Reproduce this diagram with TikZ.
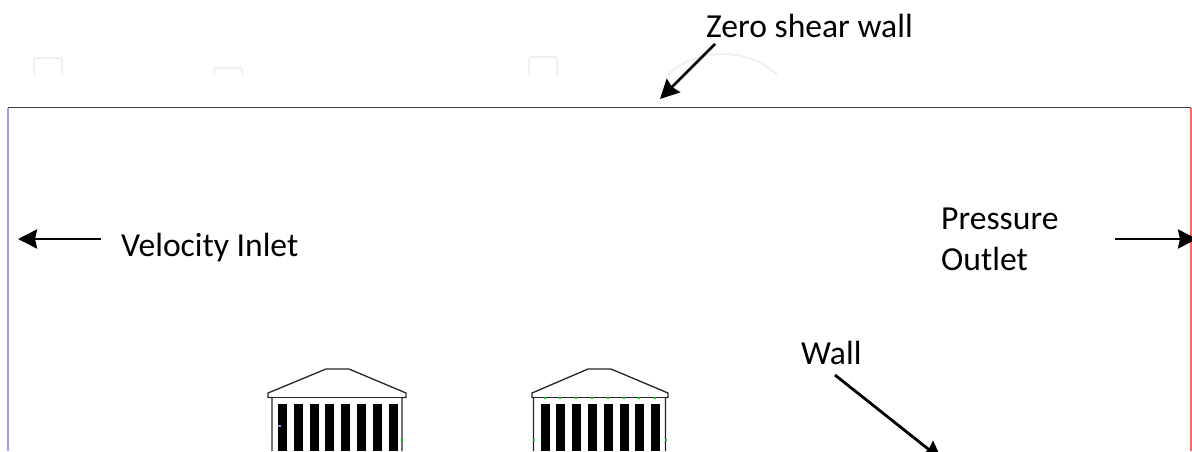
\documentclass[tikz,border=0pt]{standalone}
\usepackage{fontspec}
\setmainfont{Carlito}
\usetikzlibrary{arrows.meta}
\tikzset{
    label text/.style = {anchor = base west, inner sep = 0pt, font = \fontsize{33.6}{40}\selectfont},
    call arrow/.style = {line width = 2.8pt, ->, >={Stealth[length = 19pt, width = 19pt, inset = 2pt]}},
    ghost mark/.style = {draw = black!6, line width = 2pt, rounded corners = 2pt},
    temple/.style = {black!85, line width = 1.3pt},
    green dot/.style = {fill = green!85!black, draw = none, inner sep = 0pt, minimum size = 2pt, rectangle}
}
\begin{document}
\begin{tikzpicture}[x = 1pt, y = -1pt]
    \useasboundingbox (0,0) rectangle (1192,451);
    \clip (0,0) rectangle (1192,451);
    % faint marks above the domain
    \draw[ghost mark] (34,75) -- (34,58) -- (62,58) -- (62,75);
    \draw[ghost mark] (214,75) -- (214,68) -- (242,68) -- (242,75);
    \draw[ghost mark] (529,75) -- (529,57) -- (557,57) -- (557,75);
    \draw[ghost mark, rounded corners = 0pt] (668,75) .. controls (695,47) and (750,47) .. (777,75);
    % domain
    \coordinate (TL) at (8,107.5);
    \coordinate (TR) at (1191,107.5);
    \coordinate (BL) at (8,451);
    \coordinate (BR) at (1191,451);
    \draw[blue!40, line width = 1.2pt] (TL) -- (BL);
    \draw[red!60, line width = 1.6pt] (TR) -- (BR);
    \draw[black!75, line width = 1.3pt] (TL) -- (TR);
    % first building
    \draw[temple] (272,451) -- (272,397.5) -- (268,397.5) -- (268,393) -- (326,369) -- (349,369) -- (406,393) -- (406,397.5) -- (402,397.5) -- (402,451);
    \draw[temple] (268,397.5) -- (406,397.5);
    \foreach \i in {0,...,7}
        \fill (278 + 15.8*\i,404) rectangle (287 + 15.8*\i,451);
    \fill[blue!50] (278,425) rectangle (281,427);
    \node[green dot] at (272,440) {};
    \node[green dot] at (402,440) {};
    % second building
    \draw[temple] (533.5,451) -- (533.5,397.5) -- (532,397.5) -- (532,393) -- (588,369) -- (611,369) -- (668,393) -- (668,397.5) -- (665.5,397.5) -- (665.5,451);
    \draw[temple] (532,397.5) -- (668,397.5);
    \foreach \i in {0,...,7} {
        \fill (540.5 + 15.8*\i,404) rectangle (549.5 + 15.8*\i,451);
        \node[green dot] at (544.5 + 15.8*\i,397.5) {};
    }
    \node[green dot] at (533.5,440) {};
    \node[green dot] at (665.5,440) {};
    % labels
    \node[label text] (zero) at (706,37) {Zero shear wall};
    \node[label text] (inlet) at (121,256) {Velocity Inlet};
    \node[label text] (pressure) at (941,229) {Pressure};
    \node[label text] (outlet) at (941,270) {Outlet};
    \node[label text] (wall) at (801,364) {Wall};
    % arrows
    \coordinate (zeroA) at (715,44);
    \coordinate (zeroB) at (660,99);
    \coordinate (inletA) at (101,239);
    \coordinate (inletB) at (18,239);
    \coordinate (outletA) at (1115,239);
    \coordinate (outletB) at (1197,239);
    \coordinate (wallA) at (835,375);
    \coordinate (wallB) at (942,460);
    \draw[call arrow] (zeroA) -- (zeroB);
    \draw[call arrow] (inletA) -- (inletB);
    \draw[call arrow] (outletA) -- (outletB);
    \draw[call arrow] (wallA) -- (wallB);
\end{tikzpicture}
\end{document}
